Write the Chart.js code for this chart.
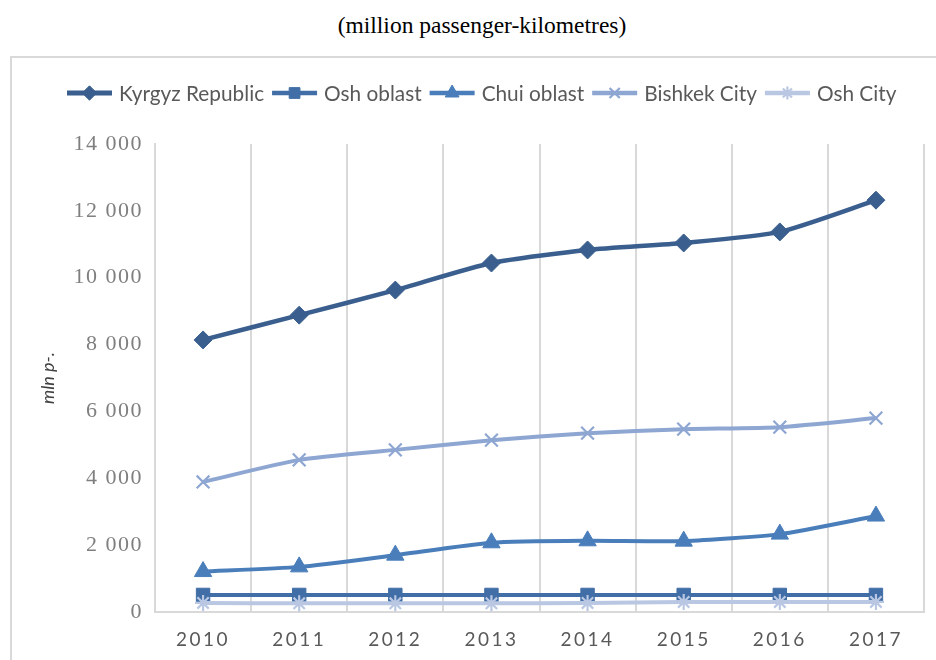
<!DOCTYPE html>
<html>
<head>
<meta charset="utf-8">
<script src="https://cdn.jsdelivr.net/npm/chart.js@4/dist/chart.umd.min.js"></script>
<style>
  html, body { margin: 0; padding: 0; background: #fff; width: 936px; height: 660px; overflow: hidden; }
  #title { position: absolute; left: 0; top: 12px; width: 964px; text-align: center;
           font: 23.5px "Liberation Serif", "Times New Roman", serif; color: #000; }
  #frame { position: absolute; left: 10px; top: 56px; width: 960px; height: 640px;
           border: 2px solid #d9d9d9; box-sizing: border-box; }
  #wrap { position: absolute; left: 0; top: 0; width: 936px; height: 660px; }
</style>
</head>
<body>
<div id="title">(million passenger-kilometres)</div>
<div id="frame"></div>
<div id="wrap"><canvas id="c" width="936" height="660"></canvas></div>
<script>
// Passenger turnover by region, million passenger-kilometres
const years = ['2010', '2011', '2012', '2013', '2014', '2015', '2016', '2017'];
const kyrgyzRepublic = [8140, 8880, 9630, 10440, 10830, 11040, 11370, 12320];
const oshOblast      = [510, 510, 510, 510, 510, 510, 510, 510];
const chuiOblast     = [1210, 1350, 1700, 2070, 2130, 2120, 2330, 2870];
const bishkekCity    = [3890, 4550, 4850, 5140, 5350, 5470, 5530, 5800];
const oshCity        = [270, 260, 260, 260, 270, 300, 300, 300];
const yTicks = [0, 2000, 4000, 6000, 8000, 10000, 12000, 14000];

// Category / linear scales whose tick labels are drawn with letter spacing
class SpacedCategoryScale extends Chart.CategoryScale {
  drawLabels(area) {
    const ctx = this.ctx;
    ctx.save();
    ctx.letterSpacing = (this.options.ticks.spacing || 0) + 'px';
    super.drawLabels(area);
    ctx.restore();
  }
}
SpacedCategoryScale.id = 'spacedCategory';
SpacedCategoryScale.defaults = Chart.CategoryScale.defaults;

class SpacedLinearScale extends Chart.LinearScale {
  drawLabels(area) {
    const ctx = this.ctx;
    ctx.save();
    ctx.letterSpacing = (this.options.ticks.spacing || 0) + 'px';
    super.drawLabels(area);
    ctx.restore();
  }
}
SpacedLinearScale.id = 'spacedLinear';
SpacedLinearScale.defaults = Chart.LinearScale.defaults;
Chart.register(SpacedCategoryScale, SpacedLinearScale);

const fmt = v => String(v).replace(/\B(?=(\d{3})+(?!\d))/g, ' ');

// Legend with a short line and the series marker in the middle of it
const lineLegend = {
  id: 'lineLegend',
  afterDraw(chart, args, opts) {
    const ctx = chart.ctx;
    ctx.save();
    ctx.font = opts.font;
    ctx.textBaseline = 'middle';
    let x = opts.x;
    const y = opts.y;
    chart.data.datasets.forEach(ds => {
      ctx.lineCap = 'butt';
      ctx.strokeStyle = ds.borderColor;
      ctx.lineWidth = ds.borderWidth + 0.5;
      ctx.beginPath();
      ctx.moveTo(x, y);
      ctx.lineTo(x + opts.lineLength, y);
      ctx.stroke();
      ctx.fillStyle = ds.pointBackgroundColor;
      ctx.strokeStyle = ds.pointBorderColor;
      ctx.lineWidth = ds.pointBorderWidth;
      Chart.helpers.drawPoint(ctx, {
        pointStyle: ds.pointStyle,
        radius: ds.pointRadius * opts.markerScale,
        borderWidth: ds.pointBorderWidth,
        rotation: 0
      }, x + opts.lineLength / 2, y);
      x += opts.lineLength + opts.textGap;
      ctx.fillStyle = opts.color;
      ctx.textAlign = 'left';
      ctx.fillText(ds.label, x, y + 1);
      x += ctx.measureText(ds.label).width + opts.itemGap;
    });
    ctx.restore();
  }
};

function series(label, data, color, style, radius, width, markerBorder) {
  return {
    label, data,
    borderColor: color,
    backgroundColor: color,
    borderWidth: width,
    pointStyle: style,
    pointRadius: radius,
    pointHoverRadius: radius,
    pointBackgroundColor: color,
    pointBorderColor: color,
    pointBorderWidth: markerBorder,
    tension: 0.2,
    cubicInterpolationMode: 'default'
  };
}

const datasets = [
  series('Kyrgyz Republic', kyrgyzRepublic, '#3a5f8e', 'rectRot', 9, 4.5, 1),
  series('Osh oblast',      oshOblast,      '#416ea6', 'rect',    9.5, 4, 1),
  series('Chui oblast',     chuiOblast,     '#4a7ebb', 'triangle', 10, 4, 1),
  series('Bishkek City',    bishkekCity,    '#8ea6d2', 'crossRot', 9, 4, 2.2),
  series('Osh City',        oshCity,        '#b9c7e3', 'star',     8, 4, 2.2)
];
// later series are painted above earlier ones
datasets.forEach((d, i) => { d.order = datasets.length - i; });

new Chart(document.getElementById('c'), {
  type: 'line',
  data: { labels: years, datasets },
  plugins: [lineLegend],
  options: {
    responsive: false,
    animation: false,
    layout: { padding: { left: 20, right: 12, top: 144, bottom: 0 } },
    plugins: {
      legend: { display: false },
      tooltip: { enabled: false },
      lineLegend: {
        x: 67, y: 93, lineLength: 45, textGap: 7, itemGap: 8, markerScale: 0.8,
        font: '20.8px Lato, "Open Sans", sans-serif', color: '#595959'
      }
    },
    scales: {
      x: {
        type: 'spacedCategory',
        offset: true,
        grid: { display: true, offset: true, color: '#d9d9d9', lineWidth: 2, drawTicks: false },
        border: { display: true, color: '#d9d9d9', width: 2 },
        ticks: { color: '#595959', padding: 16, spacing: 2.5, maxRotation: 0,
                 font: { family: 'Lato, "Open Sans", sans-serif', size: 19 } },
        afterFit: s => { s.height = 48; }
      },
      y: {
        type: 'spacedLinear',
        min: 0, max: 14000,
        afterBuildTicks: s => { s.ticks = yTicks.map(v => ({ value: v })); },
        grid: { display: false, drawTicks: false },
        border: { display: true, color: '#d9d9d9', width: 2 },
        ticks: { color: '#7f7f7f', padding: 12, spacing: 1.5, callback: v => fmt(v),
                 font: { family: '"Liberation Serif", "Times New Roman", serif', size: 22 } },
        title: { display: true, text: 'mln p-.', color: '#404040', padding: { top: 17, bottom: 0 },
                 font: { family: 'Lato, "Open Sans", sans-serif', size: 18, style: 'italic' } },
        afterFit: s => { s.width = 135; }
      }
    }
  }
});
</script>
</body>
</html>
